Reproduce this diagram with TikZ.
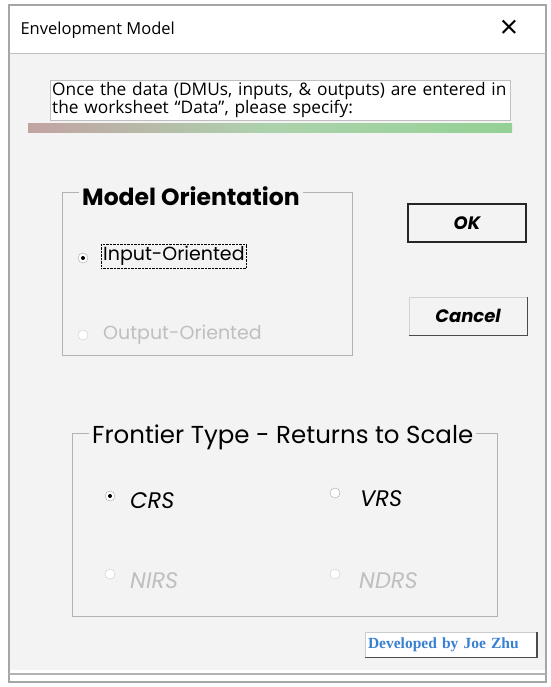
\documentclass[tikz,border=0pt]{standalone}
\usepackage{fontspec}
\setmainfont{Open Sans}
\newfontfamily\comicfont{Poppins}
\newfontfamily\linkfont{Liberation Serif}
\usetikzlibrary{positioning}
\definecolor{dlgback}{RGB}{243,243,243}
\definecolor{linkblue}{RGB}{58,128,210}
\tikzset{
	framebox/.style={draw=gray!60, line width=0.8pt},
	grouptitle/.style={fill=dlgback, inner sep=3pt, anchor=west, font=\comicfont\fontsize{24.5}{27}\selectfont},
	radiotext/.style={anchor=west, inner sep=2pt, font=\comicfont\fontsize{19}{22}\selectfont},
	crstext/.style={radiotext, font=\comicfont\itshape\fontsize{22.5}{25}\selectfont},
	radiobtn/.style={circle, draw=gray!70, fill=white, minimum size=10pt, inner sep=0pt},
	radiodot/.style={circle, fill=black, minimum size=4pt, inner sep=0pt},
	dlgbutton/.style={rectangle, fill=dlgback, minimum width=118pt, minimum height=38pt, font=\comicfont\bfseries\itshape\fontsize{18}{21}\selectfont}
}
\begin{document}
\begin{tikzpicture}[x=1pt,y=-1pt]
		\useasboundingbox (0,0) rectangle (550,687);
		%window
		\fill[white] (0,0) rectangle (550,687);
		\fill[dlgback] (9,53) rectangle (546,670);
		\draw[gray!70, line width=1.2pt] (9,5) rectangle (546,682);
		\draw[gray!50] (9,53) -- (546,53);
		\draw[gray!60, line width=2pt] (9,674) -- (546,674);
		\node[anchor=west, font=\fontsize{16.5}{19}\selectfont] at (17,30) (title) {Envelopment Model};
		\node[font=\fontsize{32}{32}\selectfont] at (509,29) (close) {×};
		
		%info
		\node[draw=gray!50, fill=white, anchor=north west, align=left, inner sep=2pt, text width=456pt, font=\fontsize{17.3}{18.5}\selectfont] at (50,80) (info) {Once the data (DMUs, inputs, \& outputs) are entered in\\the worksheet “Data”, please specify:};
		\shade[left color=red!20!gray!60, right color=green!40!gray!60, middle color=green!30!gray!50] (28,124) rectangle (512,133);
		
		%groups
		\draw[framebox] (62,192) rectangle (352,355);
		\node[grouptitle, font=\comicfont\bfseries\fontsize{23.5}{26}\selectfont] at (79,196) (orient) {Model Orientation};
		\draw[framebox] (72,433) rectangle (497,616);
		\node[grouptitle] at (89,437) (frontier) {Frontier Type - Returns to Scale};
		
		%radios
		\node[radiobtn] at (83,258) (inradio) {};
		\node[radiodot] at (inradio) {};
		\node[radiotext, draw, densely dotted] at (101,256) (intext) {Input-Oriented};
		\node[radiobtn, draw=gray!40] at (83,335) (outradio) {};
		\node[radiotext, text=gray!50] at (101,335) (outtext) {Output-Oriented};
		
		\node[radiobtn] at (110,496) (crsradio) {};
		\node[radiodot] at (crsradio) {};
		\node[crstext] at (128,501) (crs) {CRS};
		\node[radiobtn] at (335,493) (vrsradio) {};
		\node[crstext] at (358,499) (vrs) {VRS};
		\node[radiobtn, draw=gray!40] at (110,574) (nirsradio) {};
		\node[crstext, text=gray!50] at (128,581) (nirs) {NIRS};
		\node[radiobtn, draw=gray!40] at (335,574) (ndrsradio) {};
		\node[crstext, text=gray!50] at (357,581) (ndrs) {NDRS};
		
		%buttons
		\node[dlgbutton, draw=gray!30!black, line width=1.5pt] at (467,223) (ok) {OK};
		\node[dlgbutton, draw=gray!35] at (468,316) (cancel) {Cancel};
		\draw[gray!60!black, line width=1.2pt] (cancel.south west) -- (cancel.south east) -- (cancel.north east);
		
		%credit
		\node[draw=gray!40, fill=white, text width=166pt, inner xsep=3pt, align=left, minimum height=25pt, text=linkblue, font=\linkfont\bfseries\fontsize{15.5}{18}\selectfont] at (451,645) (credit) {Developed by Joe Zhu};
		\draw[gray!60!black, line width=1.5pt] (credit.south west) -- (credit.south east) -- (credit.north east);
\end{tikzpicture}
\end{document}
